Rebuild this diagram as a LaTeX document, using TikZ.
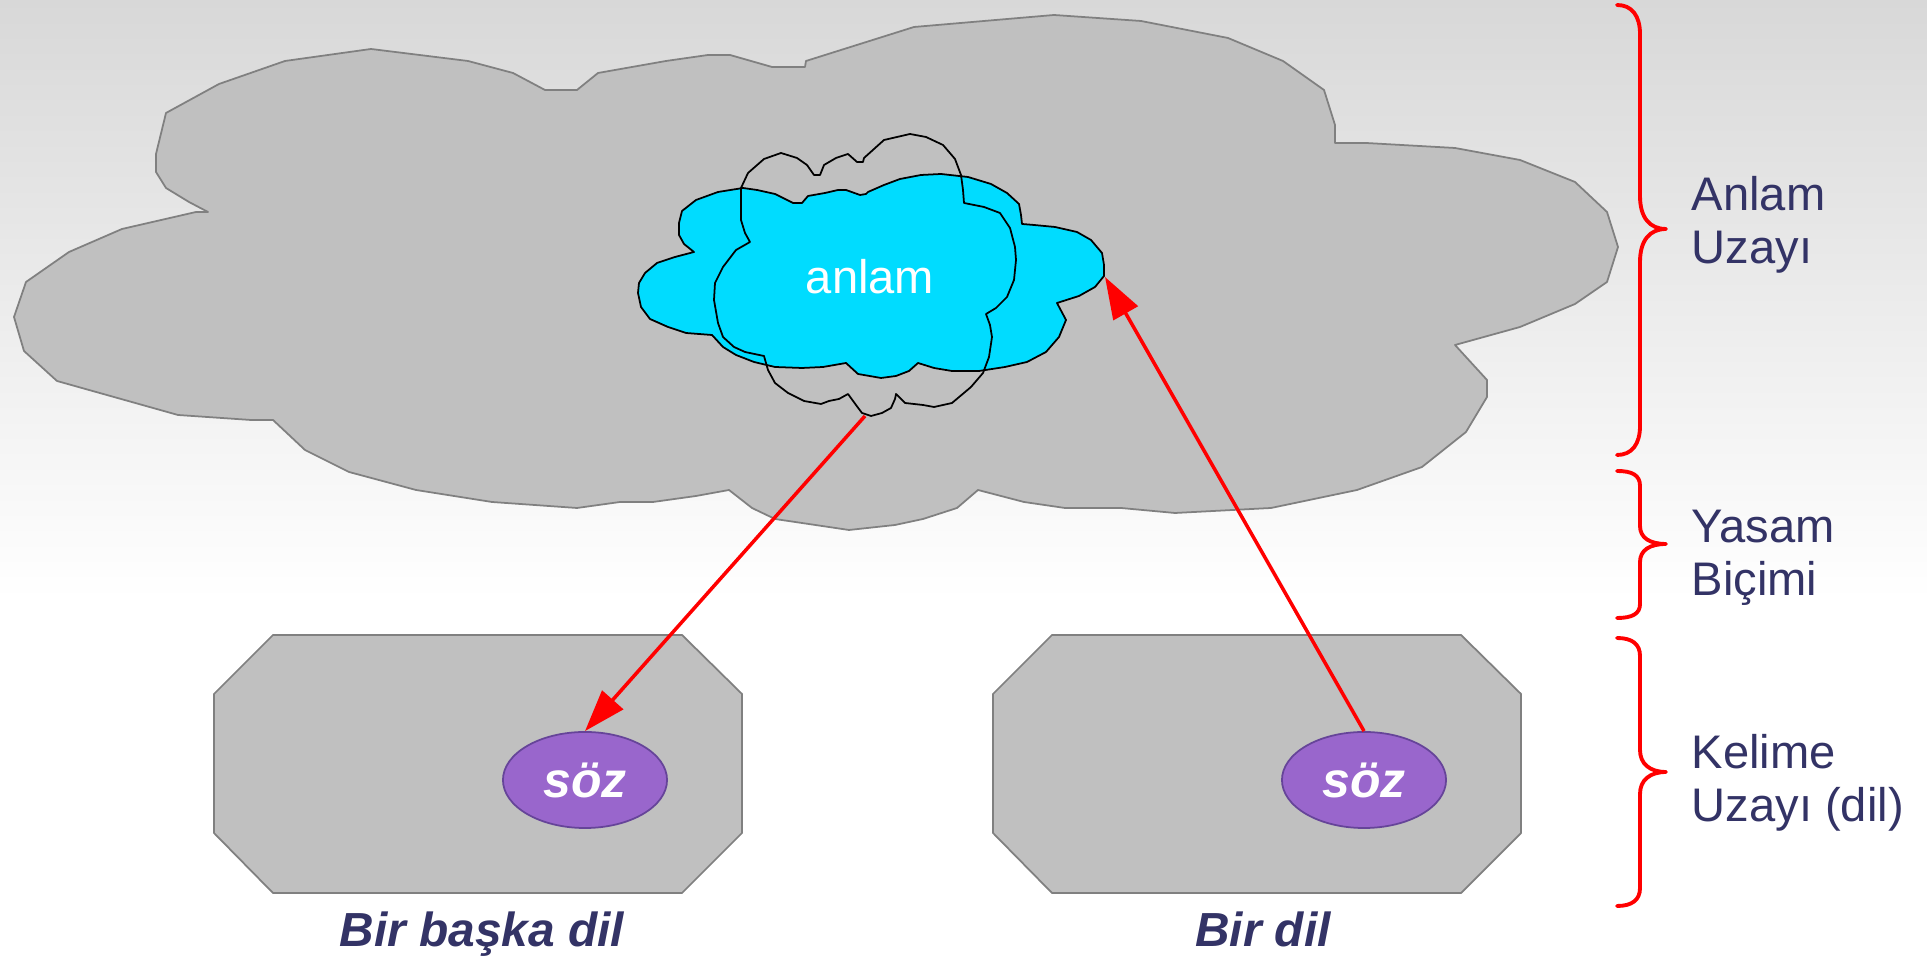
\documentclass[tikz,border=0pt]{standalone}
\usepackage{fontspec}
\setmainfont{Liberation Sans}
\usetikzlibrary{shapes.geometric,arrows.meta}
\definecolor{bgtop}{RGB}{216,216,216}
\definecolor{cloudgray}{RGB}{192,192,192}
\definecolor{edgegray}{RGB}{128,128,128}
\definecolor{cyanc}{RGB}{0,220,255}
\definecolor{purp}{RGB}{153,102,204}
\definecolor{purpedge}{RGB}{102,68,153}
\definecolor{navy}{RGB}{51,51,102}
\begin{document}
\begin{tikzpicture}[x=0.01cm,y=-0.01cm,
  grayshape/.style={fill=cloudgray,draw=edgegray,line width=0.5pt,line join=round},
  cyanshape/.style={fill=cyanc,draw=black,line width=0.5pt,line join=round},
  thinoutline/.style={draw=black,line width=0.5pt,line join=round},
  sozstyle/.style={ellipse,fill=purp,draw=purpedge,line width=0.5pt,minimum width=1.64cm,minimum height=0.96cm,inner sep=0pt,
    text=white,font=\fontsize{14.2pt}{16pt}\selectfont\bfseries\itshape},
  langlabel/.style={text=navy,inner sep=0pt,font=\fontsize{13.6pt}{15pt}\selectfont\bfseries\itshape},
  sidelabel/.style={text=navy,inner sep=0pt,align=left,anchor=west,font=\fontsize{13.4pt}{15.1pt}\selectfont},
  redarrow/.style={draw=red,line width=1pt,-{Triangle[length=11.9pt,width=7.9pt]}},
  bracestyle/.style={draw=red,line width=1.1pt,line cap=round,line join=round}
]
\useasboundingbox (0,0) rectangle (1927,962);
% background
\shade[top color=bgtop,bottom color=white] (0,0) rectangle (1927,600);
\fill[white] (0,600) rectangle (1927,962);

% big cloud (Anlam Uzayi)
\path[grayshape] (371,49) -- (468,61) -- (513,73) -- (545,90) -- (577,90) -- (598,73) -- (666,61) -- (708,55) -- (730,55) -- (772,67) -- (805,67) -- (806,61) -- (914,27) -- (1054,15) -- (1141,21) -- (1228,38) -- (1283,61) -- (1324,90) -- (1335,125) -- (1335,143) -- (1366,143) -- (1455,148) -- (1520,160) -- (1575,182) -- (1607,212) -- (1618,247) -- (1607,282) -- (1575,304) -- (1520,327) -- (1455,345) -- (1487,380) -- (1487,397) -- (1466,432) -- (1422,467) -- (1357,490) -- (1271,508) -- (1175,513) -- (1121,508) -- (1065,508) -- (1024,502) -- (978,490) -- (957,508) -- (923,519) -- (895,525) -- (849,530) -- (775,519) -- (752,508) -- (729,490) -- (696,496) -- (653,502) -- (620,502) -- (577,508) -- (492,502) -- (416,490) -- (349,472) -- (305,450) -- (273,420) -- (251,420) -- (178,415) -- (57,381) -- (24,351) -- (14,317) -- (26,282) -- (69,252) -- (122,229) -- (196,212) -- (208,212) -- (189,202) -- (166,188) -- (156,172) -- (156,154) -- (166,113) -- (219,84) -- (285,61) -- cycle;

% cyan cloud
\path[cyanshape] (743,188) -- (718,192) -- (696,200) -- (682,211) -- (679,223) -- (679,235) -- (684,244) -- (694,252) -- (675,257) -- (657,263) -- (645,273) -- (639,283) -- (638,293) -- (641,307) -- (650,319) -- (668,327) -- (686,333) -- (712,335) -- (723,347) -- (736,355) -- (754,362) -- (775,367) -- (802,368) -- (823,367) -- (846,363) -- (858,374) -- (881,378) -- (896,376) -- (909,371) -- (918,363) -- (934,368) -- (952,371) -- (979,371) -- (1005,367) -- (1027,362) -- (1046,352) -- (1059,337) -- (1066,320) -- (1057,303) -- (1079,296) -- (1095,287) -- (1104,276) -- (1104,265) -- (1102,253) -- (1091,240) -- (1077,232) -- (1055,227) -- (1034,225) -- (1022,224) -- (1021,215) -- (1019,204) -- (1007,193) -- (991,184) -- (968,177) -- (941,174) -- (921,175) -- (900,179) -- (884,185) -- (868,192) -- (866,194) -- (860,195) -- (846,190) -- (838,190) -- (825,193) -- (808,196) -- (802,203) -- (793,203) -- (783,198) -- (775,194) -- (757,190) -- cycle;

% outline cloud
\path[thinoutline] (741,188) -- (748,173) -- (764,159) -- (781,153) -- (797,158) -- (807,165) -- (814,175) -- (820,175) -- (824,165) -- (836,158) -- (848,154) -- (857,162) -- (863,162) -- (864,158) -- (884,140) -- (910,134) -- (926,137) -- (943,145) -- (955,159) -- (961,175) -- (963,190) -- (964,203) -- (984,207) -- (1000,213) -- (1010,228) -- (1015,247) -- (1016,260) -- (1014,280) -- (1007,297) -- (996,308) -- (986,314) -- (990,325) -- (992,337) -- (989,357) -- (983,373) -- (971,387) -- (952,403) -- (934,407) -- (923,405) -- (914,404) -- (905,403) -- (896,394) -- (895,399) -- (891,408) -- (882,413) -- (871,416) -- (862,413) -- (856,405) -- (848,394) -- (839,399) -- (829,401) -- (821,404) -- (804,401) -- (788,393) -- (775,383) -- (768,370) -- (764,356) -- (745,352) -- (734,347) -- (723,337) -- (718,323) -- (714,300) -- (715,283) -- (723,267) -- (736,250) -- (750,242) -- (745,233) -- (741,220) -- (741,203) -- cycle;

\node[text=white,inner sep=0pt,font=\fontsize{13.4pt}{15pt}\selectfont] (anlam) at (870,277) {anlam};

% octagons (languages)
\path[grayshape] (273,635) -- (682,635) -- (742,694) -- (742,833) -- (682,893) -- (273,893) -- (214,833) -- (214,694) -- cycle;
\path[grayshape] (1052,635) -- (1461,635) -- (1521,694) -- (1521,833) -- (1461,893) -- (1052,893) -- (993,833) -- (993,694) -- cycle;

\node[sozstyle] (soz1) at (585,780) {söz};
\node[sozstyle] (soz2) at (1364,780) {söz};

\node[langlabel,anchor=base] (lang1) at (482,947) {Bir başka dil};
\node[langlabel,anchor=base] (lang2) at (1263,947) {Bir dil};

% arrows
\coordinate (cloudbottom) at (865,416);
\coordinate (cloudright) at (1105,277);
\draw[redarrow] (cloudbottom) -- (soz1.north);
\draw[redarrow] (soz2.north) -- (cloudright);

% braces
\draw[bracestyle] (1617,5) .. controls (1632,5) and (1640,16) .. (1640,34) -- (1640,196) .. controls (1640,218) and (1650,229) .. (1666,229) .. controls (1650,229) and (1640,240) .. (1640,262) -- (1640,426) .. controls (1640,444) and (1632,455) .. (1617,455);
\draw[bracestyle] (1617,471) .. controls (1632,471) and (1640,475) .. (1640,486) -- (1640,526) .. controls (1640,538) and (1650,544) .. (1666,544) .. controls (1650,544) and (1640,550) .. (1640,562) -- (1640,604) .. controls (1640,614) and (1632,618) .. (1617,618);
\draw[bracestyle] (1617,638) .. controls (1632,638) and (1640,644) .. (1640,656) -- (1640,750) .. controls (1640,764) and (1650,772) .. (1666,772) .. controls (1650,772) and (1640,780) .. (1640,794) -- (1640,888) .. controls (1640,900) and (1632,906) .. (1617,906);

% side labels
\node[sidelabel] (lab1) at (1691,225) {Anlam\\Uzayı};
\node[sidelabel] (lab2) at (1691,558) {Yasam\\Biçimi};
\node[sidelabel] (lab3) at (1691,783) {Kelime\\Uzayı (dil)};
\end{tikzpicture}
\end{document}
